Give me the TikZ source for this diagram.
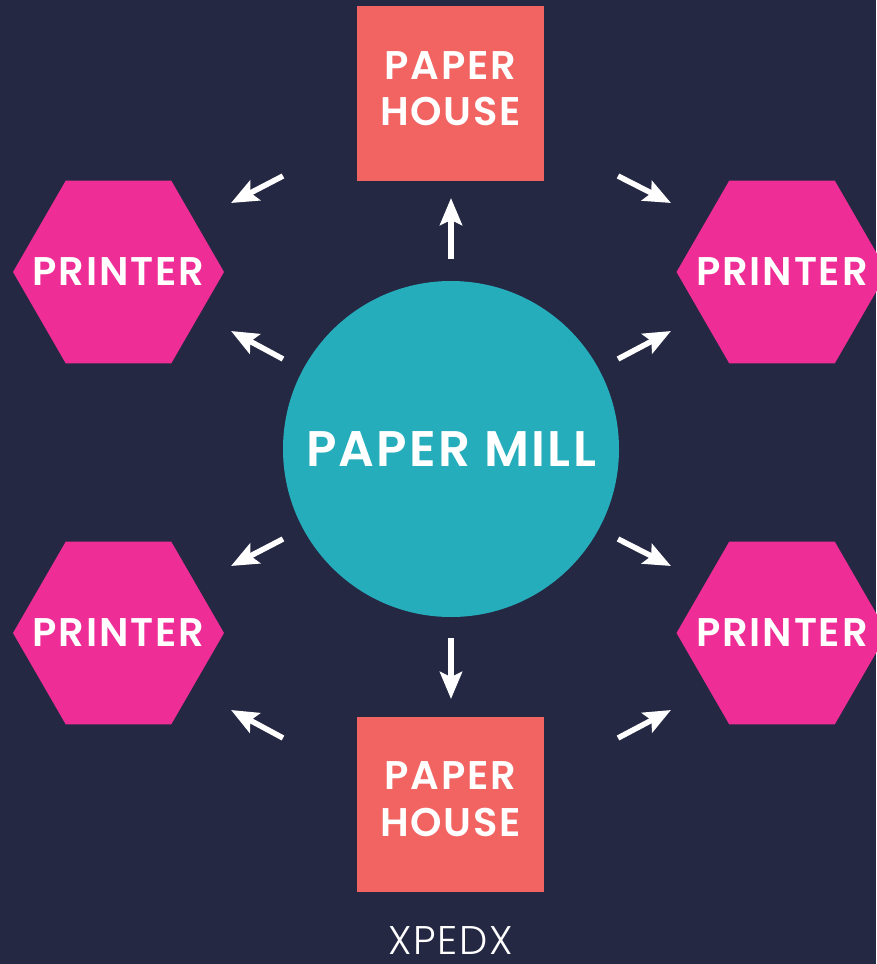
\documentclass[tikz,border=0pt]{standalone}
\usepackage{fontspec}
\setmainfont{Poppins}[BoldFont=Poppins SemiBold, LetterSpace=4.5]
\newfontfamily\lightfont{Poppins Light}[LetterSpace=4]
\usetikzlibrary{arrows.meta}
\definecolor{bgc}{HTML}{252843}
\definecolor{housec}{HTML}{F16462}
\definecolor{hexc}{HTML}{EE2D96}
\definecolor{millc}{HTML}{25ADBB}
\newcommand{\housetext}{\raisebox{1pt}{\begin{tabular}{@{}c@{}}PAPER\\[1.5pt]HOUSE\end{tabular}}}
\tikzset{
  house/.style={fill=housec, draw=none, minimum width=187pt, minimum height=175pt, inner sep=0pt,
    text=white, font=\bfseries\fontsize{40}{45}\selectfont},
  hexnode/.style={draw=none, inner sep=0pt, text=white, font=\bfseries\fontsize{40}{45}\selectfont},
  hexfill/.style={fill=hexc, draw=none},
  mill/.style={circle, fill=millc, draw=none, minimum size=336pt, inner sep=0pt,
    text=white, font=\bfseries\fontsize{50}{55}\selectfont},
  arr/.style={draw=white, line width=5.5pt,
    -{Stealth[length=27pt, width=22pt, inset=5pt]}},
}
\begin{document}
\begin{tikzpicture}[x=1pt,y=-1pt]
\fill[bgc] (0,0) rectangle (876,964);
\useasboundingbox (0,0) rectangle (876,964);
\node[house] (phtop) at (450.5,93.5) {\housetext};
\node[house] (phbot) at (450.5,804) {\housetext};
\node[mill] (mill) at (451,449) {PAPER MILL};
% hexagon centres
\coordinate (hc1) at (118.5,272);
\coordinate (hc2) at (782,272);
\coordinate (hc3) at (118.5,633);
\coordinate (hc4) at (782,633);
\foreach \i in {1,...,4} {
  \fill[hexfill] ([shift={(-105.5,0)}]hc\i) -- ([shift={(-52.75,-91.4)}]hc\i)
    -- ([shift={(52.75,-91.4)}]hc\i) -- ([shift={(105.5,0)}]hc\i)
    -- ([shift={(52.75,91.4)}]hc\i) -- ([shift={(-52.75,91.4)}]hc\i) -- cycle;
}
\node[hexnode] (ptl) at (hc1) {PRINTER};
\node[hexnode] (ptr) at (hc2) {PRINTER};
\node[hexnode] (pbl) at (hc3) {PRINTER};
\node[hexnode] (pbr) at (hc4) {PRINTER};
\node[anchor=base, inner sep=0pt, text=white, font=\lightfont\fontsize{40}{45}\selectfont] (xpedx) at (450.5,954) {XPEDX};
% arrow end points
\coordinate (a1s) at (283,176); \coordinate (a1e) at (231,203);
\coordinate (a2s) at (283,359); \coordinate (a2e) at (231,331);
\coordinate (a3s) at (451,259); \coordinate (a3e) at (451,198);
\coordinate (a4s) at (618,176); \coordinate (a4e) at (671,203);
\coordinate (a5s) at (618,359); \coordinate (a5e) at (671,331);
\coordinate (a6s) at (283,539); \coordinate (a6e) at (231,566);
\coordinate (a7s) at (283,738); \coordinate (a7e) at (231,710);
\coordinate (a8s) at (451,638); \coordinate (a8e) at (451,699);
\coordinate (a9s) at (618,539); \coordinate (a9e) at (671,566);
\coordinate (a10s) at (618,738); \coordinate (a10e) at (671,710);
\foreach \i in {1,...,10} { \draw[arr] (a\i s) -- (a\i e); }
\end{tikzpicture}
\end{document}
